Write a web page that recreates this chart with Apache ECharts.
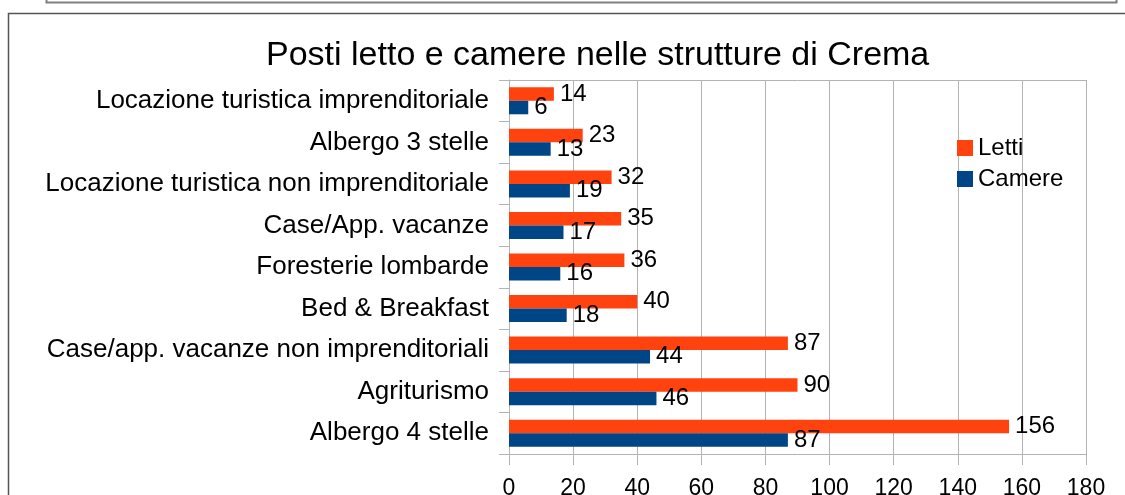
<!DOCTYPE html>
<html>
<head>
<meta charset="utf-8">
<script src="https://cdn.jsdelivr.net/npm/echarts@6/dist/echarts.min.js"></script>
<style>
html,body{margin:0;padding:0;background:#fff;}
#c{width:1125px;height:495px;}
</style>
</head>
<body>
<div id="c"></div>
<script>
const categories = [
  "Locazione turistica imprenditoriale",
  "Albergo 3 stelle",
  "Locazione turistica non imprenditoriale",
  "Case/App. vacanze",
  "Foresterie lombarde",
  "Bed & Breakfast",
  "Case/app. vacanze non imprenditoriali",
  "Agriturismo",
  "Albergo 4 stelle"
];
const letti = [14, 23, 32, 35, 36, 40, 87, 90, 156];
const camere = [6, 13, 19, 17, 16, 18, 44, 46, 87];
const xTicks = { min: 0, max: 180, interval: 20 };

const FONT = "'Liberation Sans', Arial, sans-serif";
const chart = echarts.init(document.getElementById('c'), null, { renderer: 'canvas' });
chart.setOption({
  backgroundColor: '#ffffff',
  animation: false,
  textStyle: { fontFamily: FONT },
  title: {
    text: 'Posti letto e camere nelle strutture di Crema',
    left: 261,
    top: 34,
    textStyle: { fontFamily: FONT, fontSize: 34, fontWeight: 'normal', color: '#000' }
  },
  legend: {
    orient: 'vertical',
    left: 952,
    top: 131,
    itemWidth: 16,
    itemHeight: 16,
    itemGap: 7,
    icon: 'rect',
    data: ['Letti', 'Camere'],
    textStyle: { fontFamily: FONT, fontSize: 24, color: '#000' }
  },
  grid: { left: 509, right: 39, top: 80, bottom: 41, containLabel: false, outerBoundsMode: 'none' },
  xAxis: [{
    type: 'value',
    min: xTicks.min, max: xTicks.max, interval: xTicks.interval,
    axisLine: { show: true, lineStyle: { color: '#b3b3b3', width: 1 } },
    axisTick: { show: true, length: 11, lineStyle: { color: '#b3b3b3' } },
    splitLine: { show: true, lineStyle: { color: '#b3b3b3', width: 1 } },
    axisLabel: { fontFamily: FONT, fontSize: 23, color: '#000', margin: 23 }
  }, {
    type: 'value', position: 'top',
    min: xTicks.min, max: xTicks.max, interval: xTicks.interval,
    axisLine: { show: true, lineStyle: { color: '#b3b3b3', width: 1 } },
    axisTick: { show: false }, axisLabel: { show: false }, splitLine: { show: false }
  }],
  yAxis: {
    type: 'category',
    inverse: true,
    data: categories,
    axisLine: { show: true, lineStyle: { color: '#b3b3b3', width: 1 } },
    axisTick: { show: true, length: 10, lineStyle: { color: '#b3b3b3' } },
    axisLabel: { fontFamily: FONT, fontSize: 26, color: '#000', margin: 20 },
    splitLine: { show: false }
  },
  series: [{
    name: 'Letti', type: 'bar', data: letti,
    itemStyle: { color: '#ff420e' },
    barGap: '0%', barCategoryGap: '35%',
    label: { show: true, position: 'right', distance: 6, fontFamily: FONT, fontSize: 24, color: '#000' }
  }, {
    name: 'Camere', type: 'bar', data: camere,
    itemStyle: { color: '#004586' },
    barGap: '0%', barCategoryGap: '35%',
    label: { show: true, position: 'right', distance: 6, fontFamily: FONT, fontSize: 24, color: '#000' }
  }],
  graphic: [
    { type: 'rect', shape: { x: 46.5, y: -20, width: 1070, height: 22.5 }, style: { fill: 'none', stroke: '#808080', lineWidth: 2 }, silent: true },
    { type: 'rect', shape: { x: 8.5, y: 13.5, width: 1140, height: 500 }, style: { fill: 'none', stroke: '#555555', lineWidth: 1.5 }, silent: true }
  ]
});
</script>
</body>
</html>
